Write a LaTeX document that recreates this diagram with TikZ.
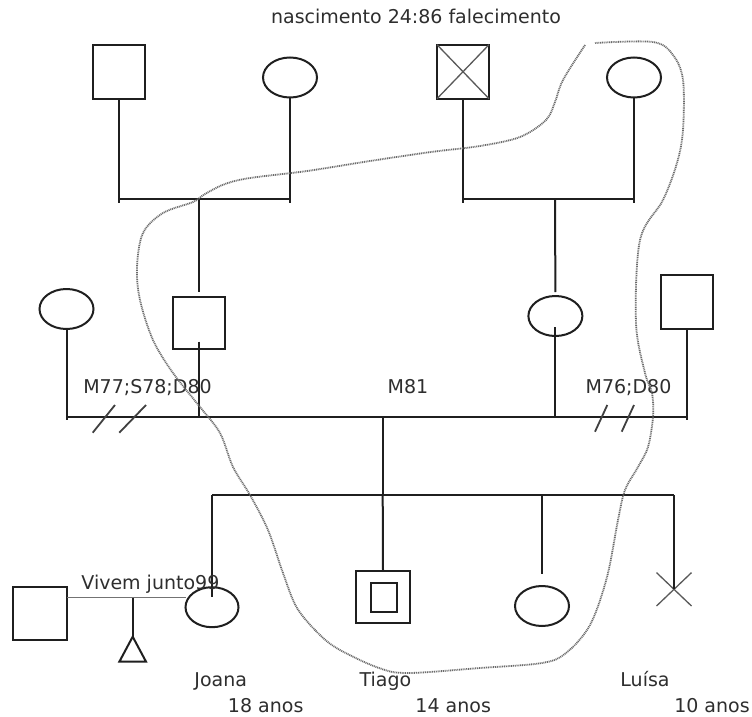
\documentclass[tikz,border=0pt]{standalone}
\usepackage{fontspec}
\setmainfont{DejaVu Sans}
\usetikzlibrary{shapes.geometric}
\begin{document}
\begin{tikzpicture}[x=1pt,y=-1pt,
  ln/.style={line width=2pt, draw=black!88},
  thinln/.style={line width=1.3pt, draw=black!65},
  cohab/.style={line width=1.1pt, draw=black!55},
  male/.style={draw=black!88, line width=2pt, rectangle, minimum width=52pt, minimum height=54pt, inner sep=0pt, outer sep=0pt},
  female/.style={draw=black!88, line width=2pt, ellipse, minimum width=54pt, minimum height=40pt, inner sep=0pt, outer sep=0pt},
  lbl/.style={font=\fontsize{19}{22}\selectfont, text=black!82, anchor=base, inner sep=0pt},
  slashln/.style={line width=1.8pt, draw=black!75},
  curve/.style={line width=1.8pt, draw=black!58, dash pattern=on 1pt off 0.8pt}
]
\fill[white] (0,0) rectangle (752,717);
\useasboundingbox (0,0) rectangle (752,717);

% title
\node[lbl] (title) at (416,24) {nascimento 24:86 falecimento};

% generation 1
\node[male] (gf1) at (119,71.7) {};
\node[female] (gm1) at (290,77.5) {};
\node[male] (gf2) at (463,71.7) {};
\draw[thinln] (gf2.north west) -- (gf2.south east) (gf2.north east) -- (gf2.south west);
\node[female] (gm2) at (634,77.5) {};
\coordinate (c1) at (199,199);
\coordinate (c2) at (555,199);
\draw[ln] (gf1.south) |- (c1) -| (gm1.south);
\draw[ln] (gf2.south) |- (c2) -| (gm2.south);
\draw[ln] (gf1.south |- c1) -- ++(0,4);
\draw[ln] (gm1.south |- c1) -- ++(0,4);
\draw[ln] (gf2.south |- c2) -- ++(0,4);
\draw[ln] (gm2.south |- c2) -- ++(0,4);

% generation 2
\node[female] (exw) at (66.5,309) {};
\node[male, minimum height=52pt] (father) at (199,323.3) {};
\node[female] (mother) at (555.4,316) {};
\node[male] (exh) at (687,302) {};
\draw[ln] (c1) -- ([yshift=5.6pt]father.north);
\draw[ln] (c2) -- ([yshift=4pt]mother.north);
\coordinate (m) at (382.7,417.3);
\draw[ln] (exw.south) |- (m) -| (exh.south);
\draw[ln] (exw.south |- m) -- ++(0,3);
\draw[ln] (exh.south |- m) -- ++(0,3);
\draw[ln] ([yshift=7.6pt]father.south) -- (father.south |- m);
\draw[ln] ([yshift=8.7pt]mother.south) -- (mother.south |- m);

% divorce slashes
\draw[slashln] (92.7,432.7) -- (115,405);
\draw[slashln] (119.3,432.7) -- (146,405);
\draw[slashln] (595,431.7) -- (607.3,405);
\draw[slashln] (621.7,431.7) -- (634,405);

% marriage labels
\node[lbl] (lm1) at (147.5,393) {M77;S78;D80};
\node[lbl] (lm2) at (408,393) {M81};
\node[lbl] (lm3) at (628.5,393) {M76;D80};

% generation 3
\coordinate (s) at (382.7,495);
\node[female, minimum width=53pt] (joana) at (212,607.2) {};
\node[male, minimum width=54pt, minimum height=52.3pt] (tiago) at (383,597.2) {};
\node[male, minimum width=26.6pt, minimum height=29.6pt] (tiagoin) at (384,597.5) {};
\node[female] (sis) at (542,606) {};
\coordinate (luisa) at (674,589.3);
\draw[thinln] (luisa) ++(-17.5,-16.7) -- ++(35,33.4);
\draw[thinln] (luisa) ++(17.5,-16.7) -- ++(-35,33.4);

\draw[ln] (m) -- (s);
\draw[ln] (joana.north |- s) -- (luisa |- s);
\draw[ln] (joana.north |- s) -- ([yshift=-9.5pt]joana.north);
\draw[ln] (s) -- (tiago.north);
\draw[ln] (sis.north |- s) -- ([yshift=11.7pt]sis.north);
\draw[ln] (luisa |- s) -- (luisa);

% partner and pregnancy
\node[male, minimum width=54.6pt, minimum height=52.7pt] (partner) at (40,613.7) {};
\coordinate (cj) at (132.7,597.7);
\draw[cohab] (partner.east |- cj) -- (joana.west |- cj);
\node[isosceles triangle, isosceles triangle stretches, shape border rotate=90,
      minimum width=26.7pt, minimum height=25pt, inner sep=0pt, outer sep=0pt,
      draw=black!88, line width=2pt, anchor=apex] (baby) at (132.7,636.7) {};
\draw[ln] (cj) -- (baby.apex);
\node[lbl] (lviv) at (150.4,589) {Vivem junto99};

% names and ages
\node[lbl] (ljo) at (220.7,686.7) {Joana};
\node[lbl] (ljoa) at (265.7,712.3) {18 anos};
\node[lbl] (lti) at (385.4,686.7) {Tiago};
\node[lbl] (ltia) at (453.2,712.3) {14 anos};
\node[lbl] (llu) at (645,686.7) {Luísa};
\node[lbl] (llua) at (712,712.3) {10 anos};

% household boundary
\draw[curve] plot[smooth, tension=0.55] coordinates {
 (585,45) (563,80) (555,102) (546,120) (520,137) (480,146) (431,152) (370,161)
 (307,171) (250,178) (225,184) (205,194) (193,202) (163,213) (143,233) (137,267)
 (140,300) (153,340) (173,373) (200,407) (220,433) (233,467) (250,495) (268,530)
 (283,573) (297,608) (320,635) (340,650) (379,668) (408,673) (480,668) (542,663)
 (566,653) (590,625) (607,577) (618,520) (625,490) (638,467) (648,447) (653,417)
 (652,393) (645,373) (636,323) (640,240) (663,200) (677,163) (683,130) (683,80)
 (673,55) (653,42) (595,43)};
\end{tikzpicture}
\end{document}
